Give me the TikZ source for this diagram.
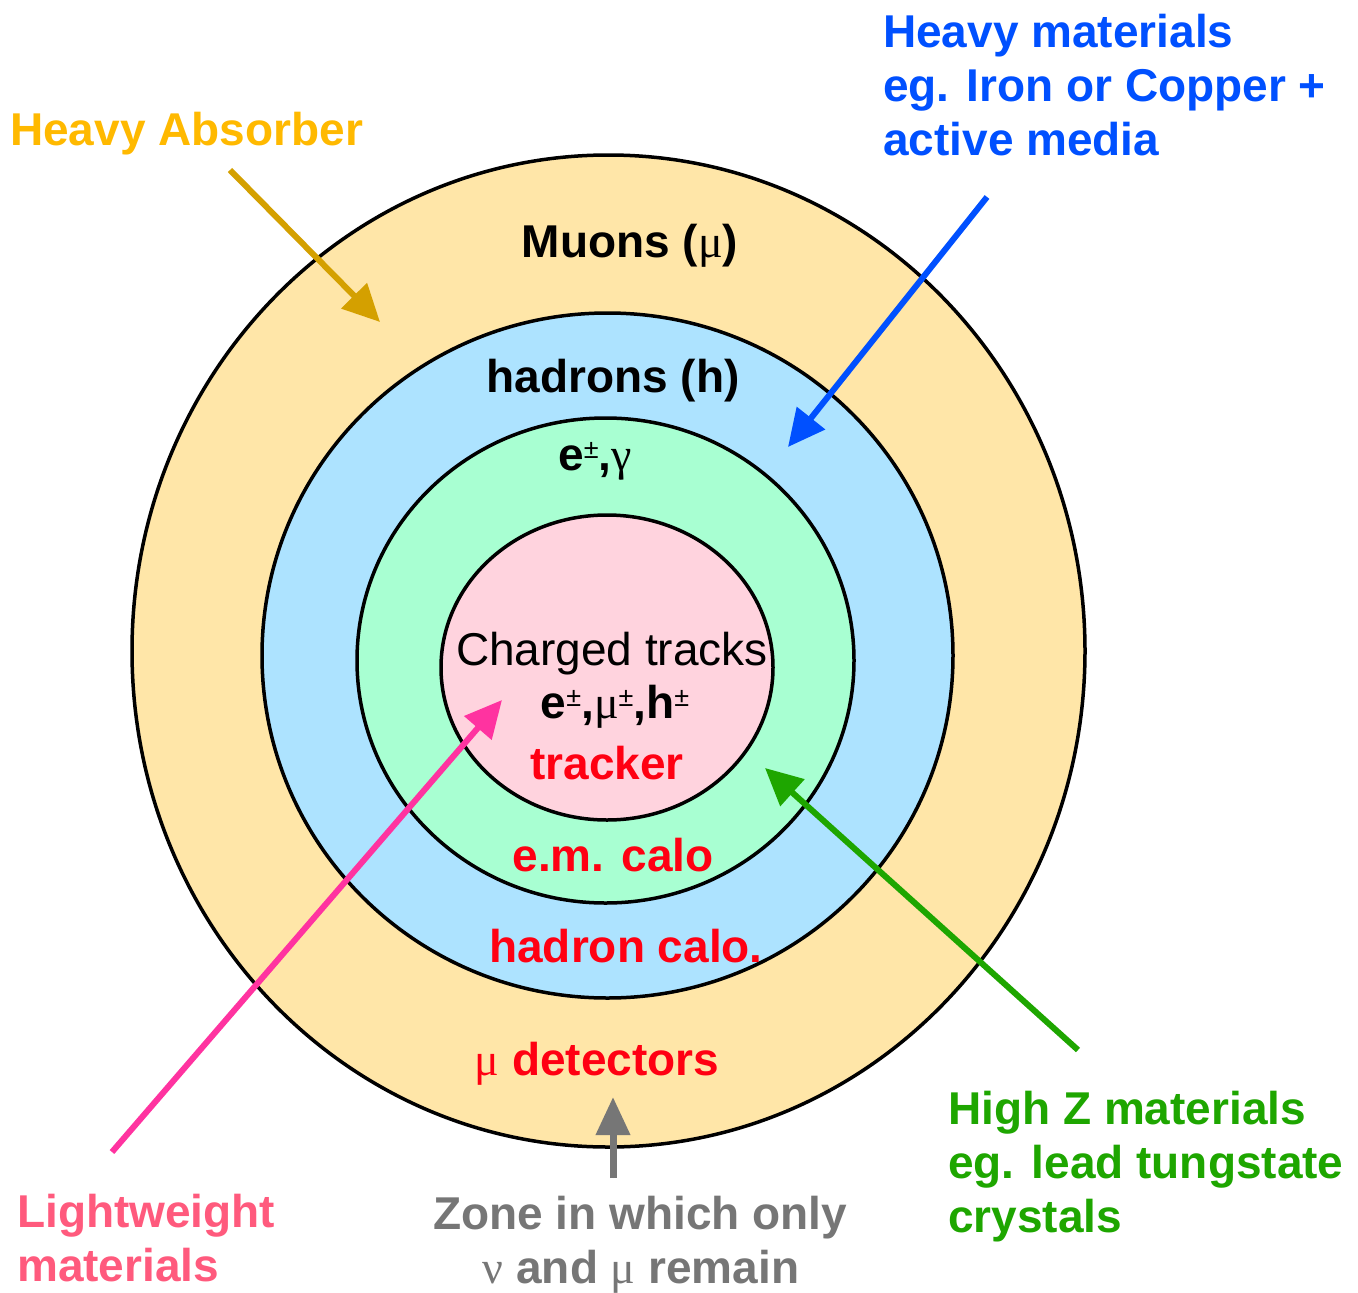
\documentclass[tikz,border=0pt]{standalone}
\usepackage{fontspec}
\setmainfont{Liberation Sans}
\newfontfamily\grkfont{Liberation Serif}
\usetikzlibrary{arrows.meta}
\definecolor{yfill}{RGB}{255,230,168}
\definecolor{bfill}{RGB}{173,227,255}
\definecolor{gfill}{RGB}{168,255,210}
\definecolor{pfill}{RGB}{255,211,222}
\definecolor{redt}{RGB}{255,0,18}
\definecolor{abstext}{RGB}{255,185,0}
\definecolor{absarrow}{RGB}{212,160,0}
\definecolor{blu}{RGB}{0,80,255}
\definecolor{pinktext}{RGB}{255,90,125}
\definecolor{pinkarrow}{RGB}{255,51,160}
\definecolor{grn}{RGB}{30,166,0}
\definecolor{gry}{RGB}{118,118,118}
\newcommand\pmsup{\raisebox{12pt}{\fontsize{27}{27}\selectfont\mdseries ±}}
\newcommand\gk[1]{{\grkfont\mdseries #1}}
\tikzset{
  lbl/.style={inner sep=0pt, font=\fontsize{46}{54}\selectfont\bfseries},
  ring/.style={draw=black, line width=3.5pt},
  arr/.style={line width=6pt, -{Triangle[length=37pt,width=35pt]}},
}
\begin{document}
\begin{tikzpicture}[x=1pt,y=-1pt]
\useasboundingbox[fill=white] (0,0) rectangle (1358,1293);
% rings
\draw[ring, fill=yfill] (608.5,651) ellipse [x radius=476.5, y radius=496];
\draw[ring, fill=bfill] (607.5,655.5) ellipse [x radius=345.5, y radius=342.5];
\draw[ring, fill=gfill] (605.5,660.5) ellipse [x radius=248.5, y radius=242.5];
\draw[ring, fill=pfill] (607,667.5) ellipse [x radius=166, y radius=152.5];
% ring labels
\node[lbl, anchor=base] (muons) at (630,257) {Muons (\gk{μ})};
\node[lbl, anchor=base] (hadrons) at (613,392) {hadrons (h)};
\node[lbl, anchor=base] (egam) at (595,470) {e\pmsup,\gk{γ}};
\node[lbl, anchor=base] (charged) at (612,665) {\mdseries Charged tracks};
\node[lbl, anchor=base] (charges) at (615,718) {e\pmsup,\gk{μ}\pmsup,h\pmsup};
\node[lbl, anchor=base, text=redt] (tracker) at (607,779) {tracker};
\node[lbl, anchor=base, text=redt] (emcalo) at (613,871) {e.m. calo};
\node[lbl, anchor=base, text=redt] (hcalo) at (626,962) {hadron calo.};
\node[lbl, anchor=base, text=redt] (mudet) at (597,1075) {\gk{μ} detectors};
% outside labels
\node[lbl, anchor=base west, text=abstext] (heavyabs) at (10,145) {Heavy Absorber};
\node[lbl, anchor=base west, text=blu] (heavy1) at (883,47) {Heavy materials};
\node[lbl, anchor=base west, text=blu] (heavy2) at (883,101) {eg. Iron or Copper +};
\node[lbl, anchor=base west, text=blu] (heavy3) at (883,155) {active media};
\node[lbl, anchor=base west, text=pinktext] (light1) at (17,1227) {Lightweight};
\node[lbl, anchor=base west, text=pinktext] (light2) at (17,1281) {materials};
\node[lbl, anchor=base west, text=grn] (highz1) at (948,1124) {High Z materials};
\node[lbl, anchor=base west, text=grn] (highz2) at (948,1178) {eg. lead tungstate};
\node[lbl, anchor=base west, text=grn] (highz3) at (948,1232) {crystals};
\node[lbl, anchor=base, text=gry] (zone1) at (640,1229) {Zone in which only};
\node[lbl, anchor=base, text=gry] (zone2) at (641,1283) {\gk{ν} and \gk{μ} remain};
% arrow end points
\coordinate (absS) at (230,170);
\coordinate (absE) at (380,322);
\coordinate (bluS) at (987,197);
\coordinate (bluE) at (788,447);
\coordinate (pinkS) at (112,1152);
\coordinate (pinkE) at (502,700);
\coordinate (grnS) at (1078,1050);
\coordinate (grnE) at (765,768);
\coordinate (gryS) at (613,1178);
\coordinate (gryE) at (613,1097);
% arrows
\draw[arr, draw=absarrow, fill=absarrow] (absS) -- (absE);
\draw[arr, draw=blu, fill=blu] (bluS) -- (bluE);
\draw[arr, draw=pinkarrow, fill=pinkarrow] (pinkS) -- (pinkE);
\draw[arr, draw=grn, fill=grn] (grnS) -- (grnE);
\draw[arr, line width=7pt, draw=gry, fill=gry, -{Triangle[length=38pt,width=33pt]}] (gryS) -- (gryE);
\end{tikzpicture}
\end{document}
